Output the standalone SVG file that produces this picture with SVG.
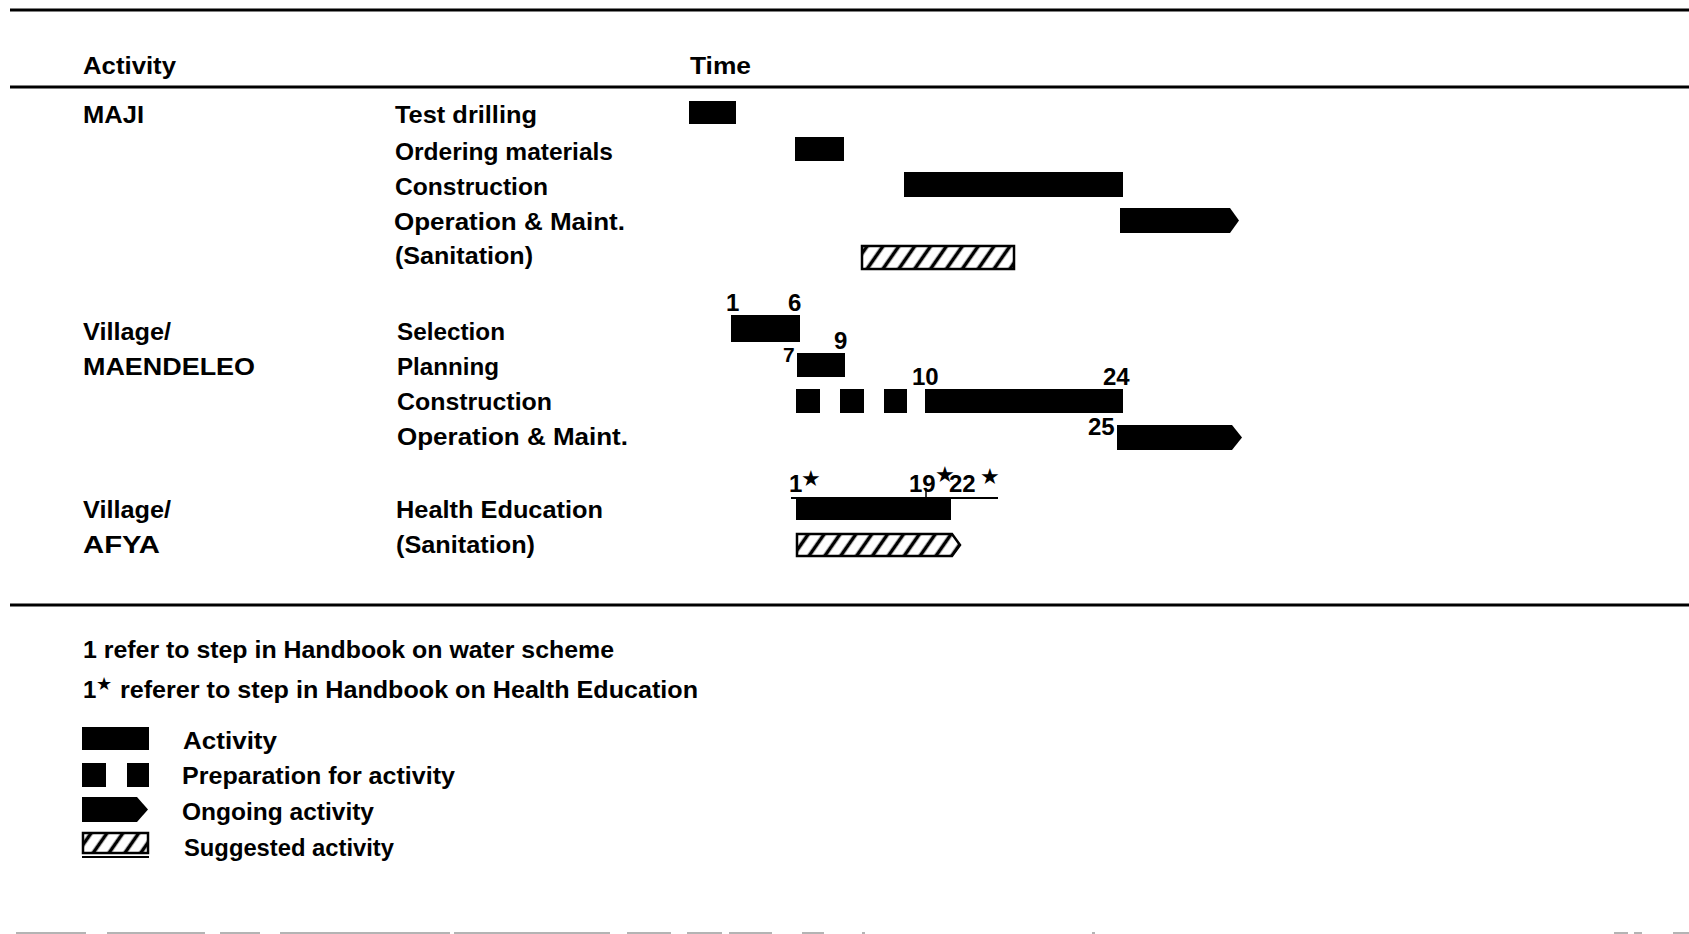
<svg xmlns="http://www.w3.org/2000/svg" width="1689" height="934" viewBox="0 0 1689 934">
<style>
text{font-family:"Liberation Sans",Arial,sans-serif;font-weight:bold;font-size:24px;fill:#000}
.num{font-size:24px}
.star{font-family:"DejaVu Sans",sans-serif;font-size:22px;font-weight:normal}
.bar{fill:#000}
.hatch{fill:url(#hatch);stroke:#000;stroke-width:2.5}
.rule{stroke:#000;stroke-width:3;fill:none}
</style>
<defs>
<pattern id="hatch" patternUnits="userSpaceOnUse" width="13" height="10" patternTransform="rotate(35)">
<rect width="13" height="10" fill="#fff"/>
<line x1="6.5" y1="0" x2="6.5" y2="10" stroke="#000" stroke-width="3.6"/>
</pattern>
</defs>
<rect width="1689" height="934" fill="#fff"/>
<g id="rules">
<line class="rule" x1="10" y1="10" x2="1689" y2="10"/>
<line class="rule" x1="10" y1="87" x2="1689" y2="87"/>
<line class="rule" x1="10" y1="605" x2="1689" y2="605"/>
<path d="M16 933H86M107 933H205M220 933H260M280 933H450M454 933H610M627 933H671M687 933H722M729 933H772M802 933H824M862 933H865M1092 933H1095M1614 933H1628M1634 933H1642M1673 933H1689" stroke="#b4b4b4" stroke-width="2"/>
</g>
<g id="header">
<text x="83" y="74" textLength="93" lengthAdjust="spacingAndGlyphs">Activity</text>
<text x="690" y="74" textLength="61" lengthAdjust="spacingAndGlyphs">Time</text>
</g>
<g id="maji">
<text x="83" y="123" textLength="61" lengthAdjust="spacingAndGlyphs">MAJI</text>
<text x="395" y="123" textLength="142" lengthAdjust="spacingAndGlyphs">Test drilling</text>
<text x="395" y="160" textLength="218" lengthAdjust="spacingAndGlyphs">Ordering materials</text>
<text x="395" y="195" textLength="153" lengthAdjust="spacingAndGlyphs">Construction</text>
<text x="394" y="230" textLength="231" lengthAdjust="spacingAndGlyphs">Operation &amp; Maint.</text>
<text x="395" y="264" textLength="138" lengthAdjust="spacingAndGlyphs">(Sanitation)</text>
<rect class="bar" x="689" y="101" width="47" height="23"/>
<rect class="bar" x="795" y="137" width="49" height="24"/>
<rect class="bar" x="904" y="172" width="219" height="25"/>
<path class="bar" d="M1120 208H1230L1239 220.5L1230 233H1120Z"/>
<rect class="hatch" x="862" y="246" width="152" height="23"/>
</g>
<g id="maendeleo">
<text x="83" y="340" textLength="88" lengthAdjust="spacingAndGlyphs">Village/</text>
<text x="83" y="375" textLength="172" lengthAdjust="spacingAndGlyphs">MAENDELEO</text>
<text x="397" y="340" textLength="108" lengthAdjust="spacingAndGlyphs">Selection</text>
<text x="397" y="375" textLength="102" lengthAdjust="spacingAndGlyphs">Planning</text>
<text x="397" y="410" textLength="155" lengthAdjust="spacingAndGlyphs">Construction</text>
<text x="397" y="445" textLength="231" lengthAdjust="spacingAndGlyphs">Operation &amp; Maint.</text>
<text class="num" x="726" y="311">1</text>
<text class="num" x="788" y="311">6</text>
<rect class="bar" x="731" y="315" width="69" height="27"/>
<text class="num" x="783" y="362" style="font-size:21px">7</text>
<text class="num" x="834" y="349">9</text>
<rect class="bar" x="797" y="353" width="48" height="24"/>
<rect class="bar" x="796" y="389" width="24" height="24"/>
<rect class="bar" x="840" y="389" width="24" height="24"/>
<rect class="bar" x="884" y="389" width="23" height="24"/>
<text class="num" x="912" y="385">10</text>
<text class="num" x="1103" y="385">24</text>
<text class="num" x="1088" y="435">25</text>
<rect class="bar" x="925" y="389" width="198" height="24"/>
<path class="bar" d="M1117 425H1232L1242 437.5L1232 450H1117Z"/>
</g>
<g id="afya">
<text x="83" y="518" textLength="88" lengthAdjust="spacingAndGlyphs">Village/</text>
<text x="83" y="553" textLength="77" lengthAdjust="spacingAndGlyphs">AFYA</text>
<text x="396" y="518" textLength="207" lengthAdjust="spacingAndGlyphs">Health Education</text>
<text x="396" y="553" textLength="139" lengthAdjust="spacingAndGlyphs">(Sanitation)</text>
<text class="num" x="789" y="492">1</text>
<text class="star" x="801" y="486">★</text>
<text class="num" x="909" y="492">19</text>
<text class="star" x="935" y="482">★</text>
<text class="num" x="949" y="492">22</text>
<text class="star" x="980" y="484">★</text>
<line x1="791" y1="498" x2="998" y2="498" stroke="#000" stroke-width="2"/>
<line x1="926" y1="489" x2="926" y2="498" stroke="#000" stroke-width="1.5"/>
<rect class="bar" x="796" y="498" width="155" height="22"/>
<path class="hatch" d="M797 534H952L960 545L952 556H797Z"/>
</g>
<g id="notes">
<text x="83" y="658" textLength="531" lengthAdjust="spacingAndGlyphs">1 refer to step in Handbook on water scheme</text>
<text x="83" y="698">1</text>
<text class="star" x="96" y="690" style="font-size:18px">★</text>
<text x="120" y="698" textLength="578" lengthAdjust="spacingAndGlyphs">referer to step in Handbook on Health Education</text>
</g>
<g id="legend">
<rect class="bar" x="82" y="727" width="67" height="23"/>
<text x="183" y="749" textLength="94" lengthAdjust="spacingAndGlyphs">Activity</text>
<rect class="bar" x="82" y="763" width="24" height="24"/>
<rect class="bar" x="127" y="763" width="22" height="24"/>
<text x="182" y="784" textLength="273" lengthAdjust="spacingAndGlyphs">Preparation for activity</text>
<path class="bar" d="M82 797H137L148 809.5L137 822H82Z"/>
<text x="182" y="820" textLength="192" lengthAdjust="spacingAndGlyphs">Ongoing activity</text>
<rect class="hatch" x="83" y="833" width="65" height="20"/>
<line x1="82" y1="857" x2="149" y2="857" stroke="#000" stroke-width="2"/>
<text x="184" y="856" textLength="210" lengthAdjust="spacingAndGlyphs">Suggested activity</text>
</g>
</svg>
